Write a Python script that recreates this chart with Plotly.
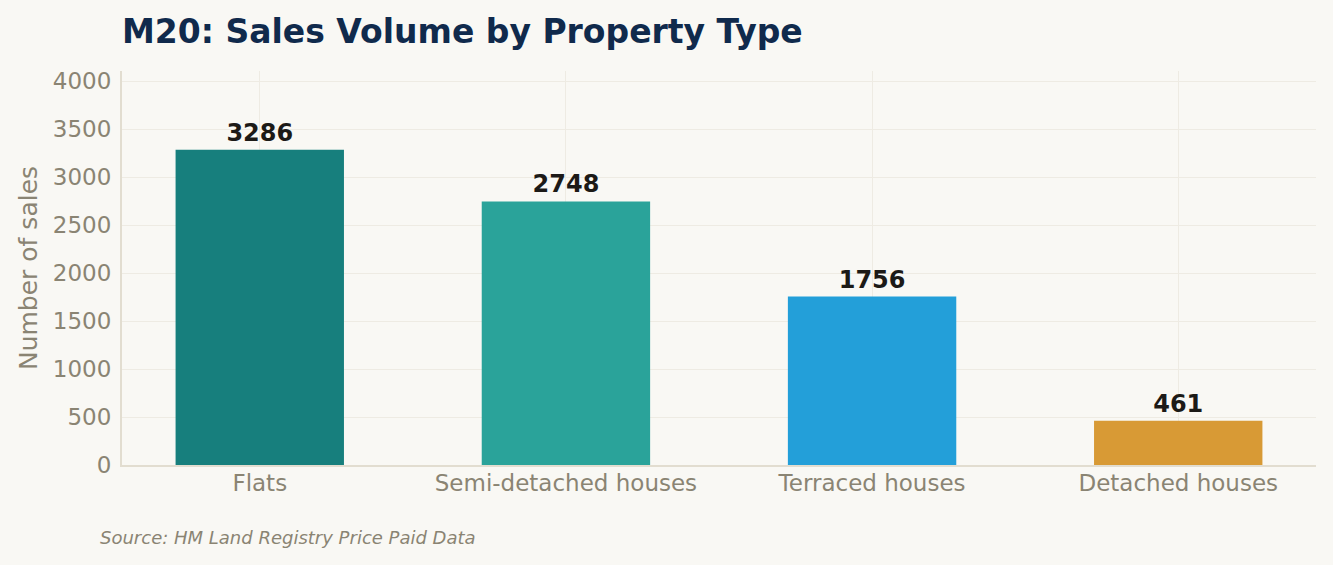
import plotly.graph_objects as go

# data
property_types = ["Flats", "Semi-detached houses", "Terraced houses", "Detached houses"]
sales_counts = [3286, 2748, 1756, 461]
bar_colors = ["#177f7d", "#2aa39a", "#239fd9", "#d89a35"]
y_ticks = [0, 500, 1000, 1500, 2000, 2500, 3000, 3500, 4000]

fig = go.Figure()
fig.add_trace(go.Bar(
    x=property_types,
    y=sales_counts,
    width=0.55,
    marker=dict(color=bar_colors, line=dict(width=0)),
    text=[str(v) for v in sales_counts],
    textposition="outside",
    textfont=dict(family="DejaVu Sans", size=24, color="#1c1a17"),
    cliponaxis=False,
    hoverinfo="skip",
))
fig.update_traces(texttemplate="<b>%{text}</b>")

fig.update_layout(
    width=1333, height=565,
    paper_bgcolor="#f9f8f4",
    plot_bgcolor="#f9f8f4",
    font=dict(family="DejaVu Sans", color="#8a8473"),
    margin=dict(l=122, r=17, t=71, b=100),
    title=dict(
        text="<b>M20: Sales Volume by Property Type</b>",
        x=0, xref="paper", xanchor="left",
        y=0.945, yanchor="middle",
        font=dict(family="DejaVu Sans", size=33, color="#102a4c"),
    ),
    showlegend=False,
    xaxis=dict(
        range=[-0.45, 3.45],
        showgrid=True, gridcolor="#eeebe3", gridwidth=1,
        showline=True, linecolor="#e2ddd0", linewidth=2,
        ticks="", ticklabelstandoff=-4,
        tickfont=dict(size=23, color="#8a8473"),
    ),
    yaxis=dict(
        range=[0, max(sales_counts) * 1.25],
        tickvals=y_ticks,
        showgrid=True, gridcolor="#eeebe3", gridwidth=1,
        showline=True, linecolor="#e2ddd0", linewidth=2,
        zeroline=False,
        ticks="", ticklen=0, ticklabelstandoff=4,
        tickfont=dict(size=23, color="#8a8473"),
        title=dict(text="Number of sales", font=dict(size=25, color="#8a8473"), standoff=8),
    ),
    annotations=[dict(
        text="<i>Source: HM Land Registry Price Paid Data</i>",
        xref="paper", yref="paper", x=-0.0205, y=-0.185,
        xanchor="left", yanchor="middle", showarrow=False,
        font=dict(family="DejaVu Sans", size=18, color="#8a8473"),
    )],
)

fig.write_html("out.html", config={"displayModeBar": False},
               post_script="document.body.style.margin='0';")
